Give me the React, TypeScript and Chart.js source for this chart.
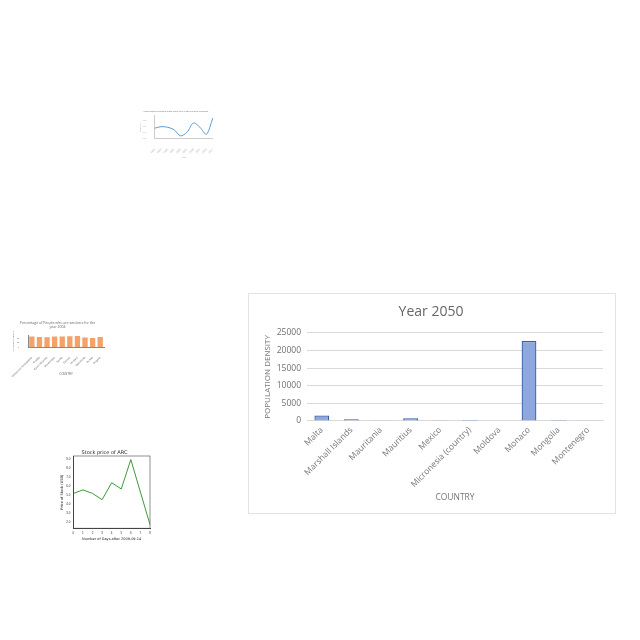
import React, { useEffect, useRef } from "react";
import { Chart, registerables } from "chart.js";

Chart.register(...registerables);

// Main chart data
const countries = ["Malta", "Marshall Islands", "Mauritania", "Mauritius", "Mexico", "Micronesia (country)", "Moldova", "Monaco", "Mongolia", "Montenegro"];
const density2050 = [1550, 480, 60, 750, 80, 280, 120, 22700, 3, 50];
const densityTicks = [0, 5000, 10000, 15000, 20000, 25000];

// Thumbnail 1 (blue line)
const lineLabels = ["1990", "1993", "1996", "1999", "2002", "2005", "2008", "2011", "2014", "2017"];
const lineValues = [0.55, 0.6, 0.58, 0.5, 0.3, 0.42, 0.72, 0.58, 0.35, 0.88];

// Thumbnail 2 (orange bars)
const smokeCountries = ["Bosnia and Herzegovina", "Croatia", "Czech Republic", "Montenegro", "Serbia", "Greece", "Hungary", "Macedonia", "Russia", "Bulgaria"];
const smokeValues = [38, 36, 35, 38, 38, 39, 40, 34, 33, 36];

// Thumbnail 3 (stock price)
const stockDays = ["0", "1", "2", "3", "4", "5", "6", "7", "8"];
const stockPrice = [5.2, 5.6, 5.2, 4.5, 6.4, 5.7, 9.0, 5.35, 1.7];
const stockTicks = [2, 3, 4, 5, 6, 7, 8, 9];

function ChartBox({ style, width, height, build }: { style: React.CSSProperties; width: number; height: number; build: () => any }) {
  const ref = useRef<HTMLCanvasElement | null>(null);
  useEffect(() => {
    if (!ref.current) return;
    const chart = new Chart(ref.current, build());
    return () => chart.destroy();
  }, []);
  return (
    <div style={{ position: "absolute", width, height, ...style }}>
      <canvas ref={ref} width={width} height={height} style={{ width, height, display: "block" }} />
    </div>
  );
}

const FONT = "'Open Sans', 'Liberation Sans', sans-serif";

function mainConfig() {
  return {
    type: "bar",
    data: {
      labels: countries,
      datasets: [{
        data: density2050,
        backgroundColor: "#8ea7dd",
        borderColor: "#3a5da6",
        borderWidth: 1.3,
        barPercentage: 0.5,
        categoryPercentage: 1,
      }],
    },
    options: {
      responsive: false,
      animation: false,
      layout: { padding: { left: 10, right: 12, top: 0, bottom: 6 } },
      plugins: {
        legend: { display: false },
        tooltip: { enabled: false },
        title: {
          display: true,
          text: "Year 2050",
          color: "#666666",
          font: { family: FONT, size: 14, weight: "normal" },
          padding: { top: 10, bottom: 12 },
        },
      },
      scales: {
        x: {
          grid: { display: false, drawTicks: false },
          border: { color: "#d9d9d9" },
          ticks: {
            color: "#777777",
            font: { family: FONT, size: 8.5 },
            minRotation: 45,
            maxRotation: 45,
            padding: 4,
            autoSkip: false,
          },
          title: {
            display: true,
            text: "COUNTRY",
            color: "#777777",
            font: { family: FONT, size: 8.5 },
            padding: { top: 4, bottom: 4 },
          },
          afterFit: (s: any) => { s.height = 86; },
        },
        y: {
          min: 0,
          max: 25000,
          grid: { color: "#d9d9d9", drawTicks: false },
          border: { display: false },
          afterBuildTicks: (s: any) => { s.ticks = densityTicks.map((v) => ({ value: v })); },
          ticks: {
            color: "#6f6f6f",
            font: { family: FONT, size: 8.5 },
            padding: 6,
            callback: (v: any) => String(v),
          },
          title: {
            display: true,
            text: "POPULATION DENSITY",
            color: "#777777",
            font: { family: FONT, size: 8 },
            padding: { top: 4, bottom: 4 },
          },
          afterFit: (s: any) => { s.width = 48; },
        },
      },
    },
  };
}

function lineConfig() {
  return {
    type: "line",
    data: {
      labels: lineLabels,
      datasets: [{
        data: lineValues,
        borderColor: "#5a9bd5",
        borderWidth: 1,
        pointRadius: 0,
        tension: 0.3,
        fill: false,
      }],
    },
    options: {
      responsive: false,
      animation: false,
      layout: { padding: { left: 1, right: 3, top: 0, bottom: 0 } },
      plugins: {
        legend: { display: false },
        tooltip: { enabled: false },
        title: {
          display: true,
          text: "Population Growth Rate Over the Years in the Country",
          color: "#999",
          font: { family: FONT, size: 2.4 },
          padding: { top: 4, bottom: 3 },
        },
      },
      scales: {
        x: {
          grid: { display: false },
          border: { color: "#ccc" },
          ticks: { color: "#aaa", font: { size: 2.5 }, minRotation: 45, maxRotation: 45, padding: 1, autoSkip: false },
          title: { display: true, text: "Year", color: "#aaa", font: { size: 2.5 }, padding: 1 },
        },
        y: {
          min: 0.2,
          max: 0.95,
          grid: { display: false },
          border: { color: "#ccc" },
          ticks: { color: "#aaa", font: { size: 1.8 }, padding: 0.5, stepSize: 0.05 },
          title: { display: true, text: "Growth rate", color: "#aaa", font: { size: 1.8 }, padding: 0.5 },
        },
      },
    },
  };
}

function smokeConfig() {
  return {
    type: "bar",
    data: {
      labels: smokeCountries,
      datasets: [{
        data: smokeValues,
        backgroundColor: "#f2a26a",
        barPercentage: 0.7,
        categoryPercentage: 1,
      }],
    },
    options: {
      responsive: false,
      animation: false,
      layout: { padding: { left: 1, right: 6, top: 0, bottom: 0 } },
      plugins: {
        legend: { display: false },
        tooltip: { enabled: false },
        title: {
          display: true,
          text: ["Percentage of People who are smokers for the", "year 2004"],
          color: "#666",
          font: { family: FONT, size: 3.5, weight: "normal" },
          padding: { top: 4, bottom: 6 },
        },
      },
      scales: {
        x: {
          grid: { display: false },
          border: { color: "#888" },
          ticks: { color: "#666", font: { size: 2.6 }, minRotation: 45, maxRotation: 45, padding: 1, autoSkip: false },
          title: { display: true, text: "COUNTRY", color: "#666", font: { size: 2.8 }, padding: 1 },
        },
        y: {
          min: 0,
          max: 42,
          grid: { display: false },
          border: { color: "#888" },
          ticks: { color: "#666", font: { size: 2 }, padding: 1, stepSize: 5 },
          title: { display: true, text: "Percentage of smokers", color: "#666", font: { size: 2 }, padding: 1 },
        },
      },
    },
  };
}

function stockConfig() {
  return {
    type: "line",
    data: {
      labels: stockDays,
      datasets: [{
        data: stockPrice,
        borderColor: "#3a9a3a",
        borderWidth: 1,
        pointRadius: 0,
        tension: 0,
        fill: false,
      }],
    },
    options: {
      responsive: false,
      animation: false,
      layout: { padding: { left: 1, right: 2, top: 0, bottom: 1 } },
      plugins: {
        legend: { display: false },
        tooltip: { enabled: false },
        title: {
          display: true,
          text: "Stock price of ARC",
          color: "#222",
          font: { family: "'DejaVu Sans', sans-serif", size: 5, weight: "normal" },
          padding: { top: 3, bottom: 0 },
        },
      },
      scales: {
        x: {
          offset: false,
          grid: { display: false, drawTicks: true, tickLength: 2 },
          border: { color: "#444" },
          ticks: { color: "#333", font: { size: 3 }, padding: 1 },
          title: { display: true, text: "Number of Days after 2009-09-14", color: "#222", font: { family: "'DejaVu Sans', sans-serif", size: 3.5 }, padding: 1 },
        },
        y: {
          min: 1.3,
          max: 9.4,
          grid: { display: false, drawTicks: true, tickLength: 2 },
          border: { color: "#444" },
          afterBuildTicks: (s: any) => { s.ticks = stockTicks.map((v) => ({ value: v })); },
          ticks: { color: "#333", font: { size: 3 }, padding: 1, callback: (v: any) => Number(v).toFixed(1) },
          title: { display: true, text: "Price of Stock (USD)", color: "#222", font: { family: "'DejaVu Sans', sans-serif", size: 3.5 }, padding: 1 },
        },
      },
    },
    plugins: [{
      id: "frame",
      afterDraw: (c: any) => {
        const a = c.chartArea;
        const ctx = c.ctx;
        ctx.save();
        ctx.strokeStyle = "#444";
        ctx.lineWidth = 0.6;
        ctx.strokeRect(a.left, a.top, a.right - a.left, a.bottom - a.top);
        ctx.restore();
      },
    }],
  };
}

export default function App() {
  return (
    <div style={{ position: "relative", width: 624, height: 624 }}>
      <ChartBox style={{ left: 130, top: 98 }} width={78} height={54} build={lineConfig} />
      <ChartBox style={{ left: 2, top: 309 }} width={100} height={60} build={smokeConfig} />
      <ChartBox style={{ left: 50, top: 439 }} width={94} height={96} build={stockConfig} />
      <ChartBox style={{ left: 240, top: 285, border: "1px solid #e3e3e3", background: "#fff" }} width={366} height={219} build={mainConfig} />
    </div>
  );
}
